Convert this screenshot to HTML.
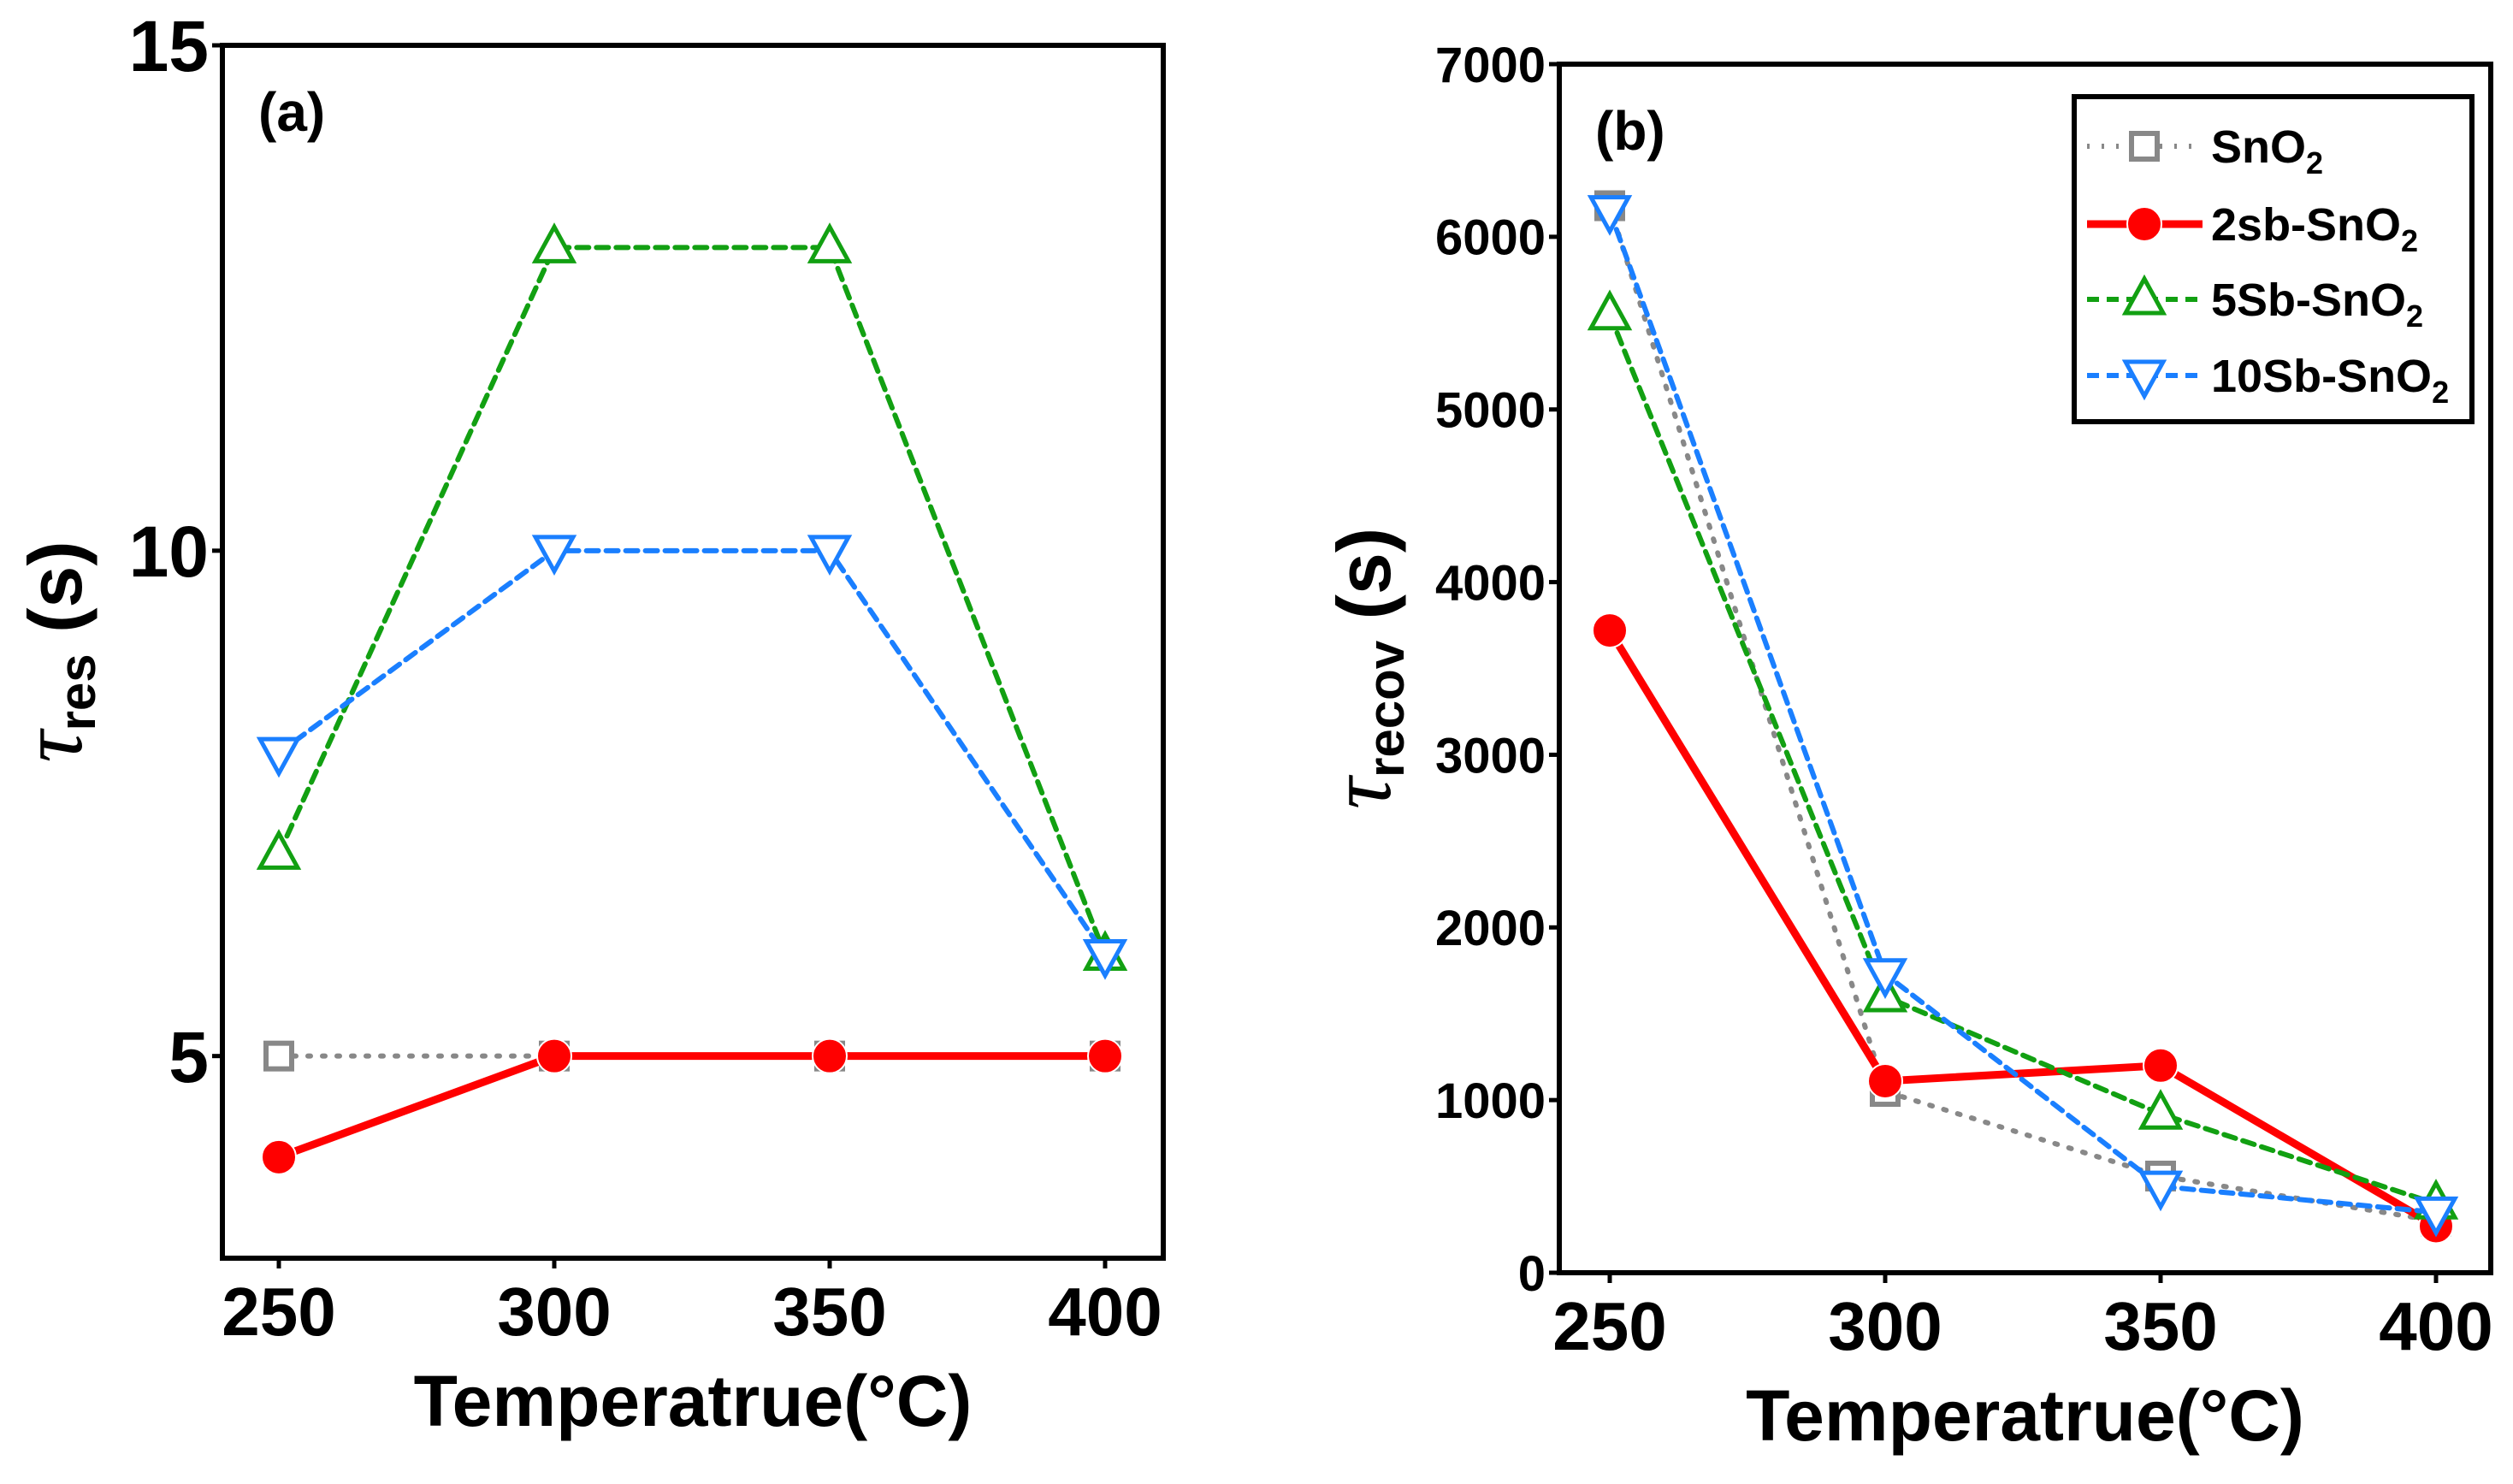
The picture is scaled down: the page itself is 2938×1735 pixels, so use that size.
<!DOCTYPE html>
<html><head><meta charset="utf-8"><style>
html,body{margin:0;padding:0;background:#fff}
svg{display:block;font-family:"Liberation Sans",Arial,sans-serif}
</style></head><body>
<svg id="fig" width="2938" height="1735" viewBox="0 0 2938 1735" xmlns="http://www.w3.org/2000/svg"></svg>
<script>
const temps = [250, 300, 350, 400];
const xTicks = [250, 300, 350, 400];
const aSnO2 = [5, 5, 5, 5];
const a2Sb = [4, 5, 5, 5];
const a5Sb = [7, 13, 13, 6];
const a10Sb = [8, 10, 10, 6];
const aYTicks = [5, 10, 15];
const bSnO2 = [6180, 1050, 560, 300];
const b2Sb = [3720, 1110, 1200, 270];
const b5Sb = [5550, 1600, 920, 400];
const b10Sb = [6150, 1730, 500, 350];
const bYTicks = [0, 1000, 2000, 3000, 4000, 5000, 6000, 7000];
const seriesNames = ["SnO2", "2sb-SnO2", "5Sb-SnO2", "10Sb-SnO2"];

const NS = "http://www.w3.org/2000/svg";
const svg = document.getElementById("fig");
function mk(tag, attrs, parent, text){
  const e = document.createElementNS(NS, tag);
  for (const k in attrs) e.setAttribute(k, attrs[k]);
  if (text !== undefined) e.textContent = text;
  (parent || svg).appendChild(e);
  return e;
}
const styles = [
  {color:"#888888", dash:"3 14", width:6, marker:"square"},
  {color:"#ff0000", dash:"", width:9, marker:"circle"},
  {color:"#12a012", dash:"14 9", width:6, marker:"up"},
  {color:"#1a7fff", dash:"14 9", width:6, marker:"down"}
];
function marker(g, type, x, y, color){
  let m;
  if (type === "square") m = mk("rect", {x:x-15, y:y-15, width:30, height:30, fill:"#fff", stroke:color, "stroke-width":6}, g);
  else if (type === "circle") m = mk("circle", {cx:x, cy:y, r:20, fill:color, stroke:"#fff", "stroke-width":2}, g);
  else if (type === "up") m = mk("polygon", {points:`${x},${y-24} ${x-22},${y+16} ${x+22},${y+16}`, fill:"#fff", stroke:color, "stroke-width":5}, g);
  else m = mk("polygon", {points:`${x},${y+24} ${x-22},${y-16} ${x+22},${y-16}`, fill:"#fff", stroke:color, "stroke-width":5}, g);
  return m;
}
function panel(cfg){
  const g = mk("g", {});
  
  
  const xs = v => cfg.x0 + (v - 250) / 150 * (cfg.x1 - cfg.x0);
  const ys = v => cfg.yb - (v - cfg.ymin) / (cfg.ymax - cfg.ymin) * (cfg.yb - cfg.yt);
  cfg.data.forEach((d, i) => {
    const st = styles[i];
    const sg = mk("g", {}, g);
    
    
    const pts = d.map((v, j) => xs(temps[j]) + "," + ys(v)).join(" ");
    const line = mk("polyline", {points:pts, fill:"none", stroke:st.color, "stroke-width":st.width, "stroke-dasharray":st.dash, "stroke-linecap":st.dash ? "round" : "butt"}, sg);
    
    
    d.forEach((v, j) => {
      const m = marker(sg, st.marker, xs(temps[j]), ys(v), st.color);
      
      
    });
  });
  const fr = mk("rect", {x:cfg.left, y:cfg.yt, width:cfg.right-cfg.left, height:cfg.yb-cfg.yt, fill:"none", stroke:"#000", "stroke-width":6}, g);
  
  
  xTicks.forEach(t => {
    mk("line", {x1:xs(t), x2:xs(t), y1:cfg.yb, y2:cfg.yb+12, stroke:"#000", "stroke-width":5}, g);
    const tl = mk("text", {x:xs(t), y:cfg.yb+90, "text-anchor":"middle", "font-size":80, "font-weight":"bold"}, g, String(t));
    
    
  });
  cfg.yticks.forEach(t => {
    mk("line", {x1:cfg.left-12, x2:cfg.left, y1:ys(t), y2:ys(t), stroke:"#000", "stroke-width":5}, g);
    const tl = mk("text", {x:cfg.left-16, y:ys(t)+cfg.tfs*0.36, "text-anchor":"end", "font-size":cfg.tfs, "font-weight":"bold"}, g, String(t));
    
    
  });
  const xt = mk("text", {x:(cfg.left+cfg.right)/2, y:cfg.yb+196, "text-anchor":"middle", "font-size":84, "font-weight":"bold"}, g, "Temperatrue(°C)");
  
  
  const yt = mk("text", {transform:`translate(${cfg.ytx},${(cfg.yt+cfg.yb)/2}) rotate(-90)`, "text-anchor":"middle", "font-size":88, "font-weight":"bold"}, g);
  
  
  mk("tspan", {"font-family":"Liberation Serif, serif", "font-style":"italic", "font-weight":"normal", "font-size":104}, yt, "τ");
  mk("tspan", {"font-size":60, dy:16}, yt, cfg.sub);
  mk("tspan", {dy:-16}, yt, " (s)");
  const pl = mk("text", {x:cfg.left+42, y:cfg.yt+100, "font-size":64, "font-weight":"bold"}, g, cfg.label);
  
  
}
panel({name:"panel-a", left:260, right:1360, yt:53, yb:1471, x0:326, x1:1292, ymin:3, ymax:15, yticks:aYTicks, tfs:84,
  data:[aSnO2, a2Sb, a5Sb, a10Sb], sub:"res", ytx:95, label:"(a)"});
panel({name:"panel-b", left:1823, right:2912, yt:75, yb:1488, x0:1882, x1:2848, ymin:0, ymax:7000, yticks:bYTicks, tfs:58,
  data:[bSnO2, b2Sb, b5Sb, b10Sb], sub:"recov", ytx:1625, label:"(b)"});

const lg = mk("g", {});


mk("rect", {x:2425, y:113, width:465, height:380, fill:"#fff", stroke:"#000", "stroke-width":6}, lg);
const ly = [171, 262, 350, 439];
const labels = [["SnO","2"],["2sb-SnO","2"],["5Sb-SnO","2"],["10Sb-SnO","2"]];
styles.forEach((st, i) => {
  const e = mk("g", {}, lg);
  
  
  mk("line", {x1:2440, x2:2575, y1:ly[i], y2:ly[i], stroke:st.color, "stroke-width":st.width, "stroke-dasharray":st.dash}, e);
  marker(e, st.marker, 2507, ly[i], st.color);
  const t = mk("text", {x:2585, y:ly[i]+19, "font-size":54, "font-weight":"bold"}, e);
  mk("tspan", {}, t, labels[i][0]);
  mk("tspan", {"font-size":36, dy:13}, t, labels[i][1]);
});
</script>
</body></html>
